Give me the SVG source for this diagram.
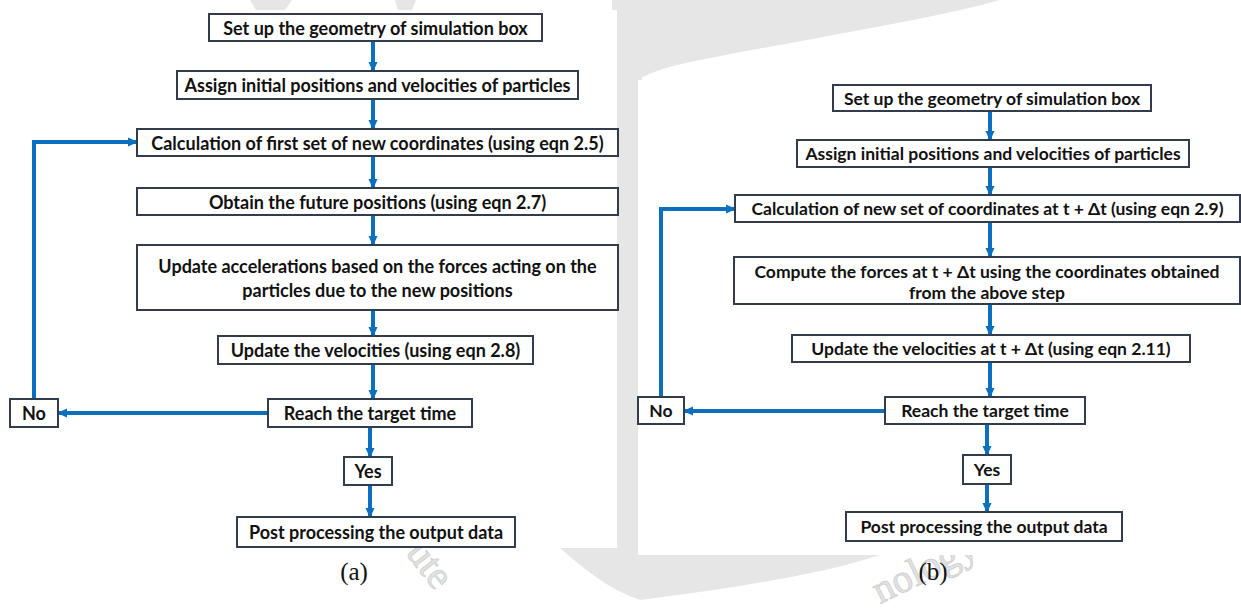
<svg xmlns="http://www.w3.org/2000/svg" width="1241" height="614" viewBox="0 0 1241 614">
<style>
.box{fill:#ffffff;stroke:#323c4c;stroke-width:2}
.t{font-family:Lato,"Liberation Sans",sans-serif;font-weight:bold;fill:#111111;text-anchor:middle;dominant-baseline:central}
.l{font-size:18px}
.r{font-size:17.5px}
.c{stroke:#0b6fc0;stroke-width:4;fill:none}
.cap{font-family:"Liberation Serif",serif;font-size:25px;fill:#111;text-anchor:middle}
.wm{fill:#e6e6e6}
.wmt{font-family:"Liberation Serif",serif;font-size:40px;fill:#e2e2e2;stroke:#cfcfcf;stroke-width:0.8}
</style>
<defs>
<marker id="ah" markerUnits="userSpaceOnUse" markerWidth="10" markerHeight="10" viewBox="0 0 10 10" refX="9" refY="5" orient="auto">
<path d="M0,0.5 L10,5 L0,9.5 z" fill="#0b6fc0"/>
</marker>
</defs>
<rect width="1241" height="614" fill="#ffffff"/>
<g id="watermark">
<rect class="wm" x="612" y="0" width="30" height="560"/>
<path class="wm" d="M612,0 L1000,0 C930,20 800,40 700,60 C670,66 650,72 638,80 L612,80 Z"/>
<path class="wm" d="M250,0 L292,0 L285,10 L256,10 Z"/>
<path class="wm" d="M395,0 L416,0 L412,10 L398,10 Z"/>
<path class="wm" d="M560,548 L640,548 L640,555 L880,555 C820,575 720,590 640,600 C610,590 585,570 560,548 Z"/>
<text class="wmt" transform="translate(405,553) rotate(52)">ute</text>
<text class="wmt" transform="translate(880,604) rotate(-26)">nology</text>
</g>
<rect x="0" y="10" width="617" height="538" fill="#ffffff"/>
<rect x="638" y="80" width="603" height="475" fill="#ffffff"/>
<g id="connectors">
<line class="c" x1="373" y1="41" x2="373" y2="71" marker-end="url(#ah)"/>
<line class="c" x1="373" y1="99" x2="373" y2="129" marker-end="url(#ah)"/>
<line class="c" x1="373" y1="156" x2="373" y2="188" marker-end="url(#ah)"/>
<line class="c" x1="373" y1="215" x2="373" y2="245" marker-end="url(#ah)"/>
<line class="c" x1="373" y1="310" x2="373" y2="336" marker-end="url(#ah)"/>
<line class="c" x1="373" y1="364" x2="373" y2="399" marker-end="url(#ah)"/>
<line class="c" x1="370" y1="427" x2="370" y2="457" marker-end="url(#ah)"/>
<line class="c" x1="370" y1="485" x2="370" y2="517" marker-end="url(#ah)"/>
<line class="c" x1="268" y1="413" x2="58" y2="413" marker-end="url(#ah)"/>
<polyline class="c" points="34,399 34,142 137,142" marker-end="url(#ah)"/>
<line class="c" x1="990" y1="111" x2="990" y2="140" marker-end="url(#ah)"/>
<line class="c" x1="990" y1="167" x2="990" y2="195" marker-end="url(#ah)"/>
<line class="c" x1="990" y1="222" x2="990" y2="257" marker-end="url(#ah)"/>
<line class="c" x1="990" y1="304" x2="990" y2="335" marker-end="url(#ah)"/>
<line class="c" x1="990" y1="362" x2="990" y2="397" marker-end="url(#ah)"/>
<line class="c" x1="987" y1="424" x2="987" y2="455" marker-end="url(#ah)"/>
<line class="c" x1="987" y1="484" x2="987" y2="512" marker-end="url(#ah)"/>
<line class="c" x1="885" y1="411" x2="684" y2="411" marker-end="url(#ah)"/>
<polyline class="c" points="661,397 661,209 735,209" marker-end="url(#ah)"/>
</g>
<g id="a1"><rect class="box" x="209" y="14" width="333" height="27"/><text class="t l" x="375.5" y="27.5">Set up the geometry of simulation box</text></g>
<g id="a2"><rect class="box" x="177" y="71" width="401" height="28"/><text class="t l" x="377.5" y="85">Assign initial positions and velocities of particles</text></g>
<g id="a3"><rect class="box" x="137" y="129" width="481" height="27"/><text class="t l" x="377.5" y="142.5">Calculation of first set of new coordinates (using eqn 2.5)</text></g>
<g id="a4"><rect class="box" x="137" y="188" width="481" height="27"/><text class="t l" x="377.5" y="201.5">Obtain the future positions (using eqn 2.7)</text></g>
<g id="a5"><rect class="box" x="137" y="245" width="481" height="65"/><text class="t l" x="377.5" y="266">Update accelerations based on the forces acting on the</text><text class="t l" x="377.5" y="290">particles due to the new positions</text></g>
<g id="a6"><rect class="box" x="218" y="336" width="315" height="28"/><text class="t l" x="375.5" y="350">Update the velocities (using eqn 2.8)</text></g>
<g id="a7"><rect class="box" x="268" y="399" width="204" height="28"/><text class="t l" x="370" y="413">Reach the target time</text></g>
<g id="a8"><rect class="box" x="10" y="399" width="48" height="28"/><text class="t l" x="34" y="413">No</text></g>
<g id="a9"><rect class="box" x="344" y="457" width="48" height="28"/><text class="t l" x="368" y="471">Yes</text></g>
<g id="a10"><rect class="box" x="237" y="517" width="278" height="30"/><text class="t l" x="376" y="532">Post processing the output data</text></g>
<text class="cap" x="354" y="580">(a)</text>
<g id="b1"><rect class="box" x="833" y="85" width="318" height="26"/><text class="t r" x="992" y="98">Set up the geometry of simulation box</text></g>
<g id="b2"><rect class="box" x="797" y="140" width="392" height="27"/><text class="t r" x="993" y="153.5">Assign initial positions and velocities of particles</text></g>
<g id="b3"><rect class="box" x="735" y="195" width="505" height="27"/><text class="t r" x="987.5" y="208.5">Calculation of new set of coordinates at t + Δt (using eqn 2.9)</text></g>
<g id="b4"><rect class="box" x="734" y="257" width="506" height="47"/><text class="t r" x="987" y="271">Compute the forces at t + Δt using the coordinates obtained</text><text class="t r" x="987" y="292">from the above step</text></g>
<g id="b5"><rect class="box" x="792" y="335" width="398" height="27"/><text class="t r" x="991" y="348.5">Update the velocities at t + Δt (using eqn 2.11)</text></g>
<g id="b6"><rect class="box" x="885" y="397" width="200" height="27"/><text class="t r" x="985" y="410.5">Reach the target time</text></g>
<g id="b7"><rect class="box" x="638" y="397" width="46" height="27"/><text class="t r" x="661" y="410.5">No</text></g>
<g id="b8"><rect class="box" x="963" y="455" width="48" height="29"/><text class="t r" x="987" y="469.5">Yes</text></g>
<g id="b9"><rect class="box" x="846" y="512" width="276" height="29"/><text class="t r" x="984" y="526.5">Post processing the output data</text></g>
<text class="cap" x="933" y="580">(b)</text>
</svg>
